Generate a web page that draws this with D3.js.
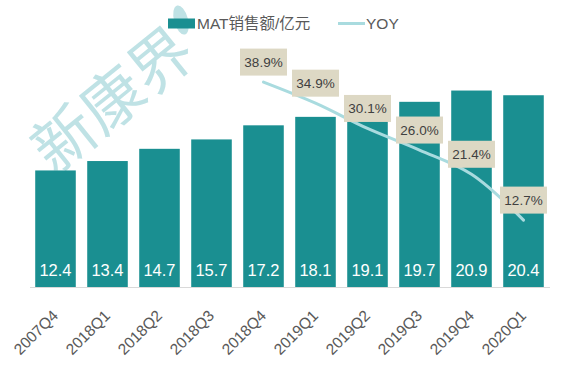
<!DOCTYPE html>
<html><head><meta charset="utf-8">
<script src="https://cdn.jsdelivr.net/npm/d3@7/dist/d3.min.js"></script>
<style>body{margin:0;background:#fff}svg{display:block}text{font-family:"Liberation Sans","Noto Sans CJK SC",sans-serif}</style>
</head><body><svg id="c" width="563" height="365"></svg>
<script>
const categories = ["2007Q4","2018Q1","2018Q2","2018Q3","2018Q4","2019Q1","2019Q2","2019Q3","2019Q4","2020Q1"];
const matValues = [12.4,13.4,14.7,15.7,17.2,18.1,19.1,19.7,20.9,20.4];
const yoyCategories = ["2018Q4","2019Q1","2019Q2","2019Q3","2019Q4","2020Q1"];
const yoyValues = [38.9,34.9,30.1,26.0,21.4,12.7];
const seriesNames = ["MAT销售额/亿元","YOY"];

const svg = d3.select("#c");
const teal = "#1A8F91", lineC = "#A9DBDF", beige = "#DDD8C4";

// watermark
const wm = svg.append("g").attr("transform","translate(113,100) rotate(-39)");
wm.append("text").attr("text-anchor","middle").attr("dy","0.35em")
  .attr("font-size",62).attr("fill","#bfe2e5").attr("font-weight","normal").text("新康界");
svg.append("ellipse").attr("cx",181).attr("cy",20).attr("rx",7).attr("ry",15)
  .attr("transform","rotate(-15,181,20)").attr("fill","#bfe2e5");

const x = d3.scaleBand().domain(categories).range([29.5,549.5]).paddingInner(0.22).paddingOuter(0.11);
const y = d3.scaleLinear().domain([0,22]).range([287,80.2]);
const y2 = d3.scaleLinear().domain([0,40]).range([287,76.3]);

// axis
const xAxis = d3.axisBottom(x).tickSize(0).tickPadding(0);
const ax = svg.append("g").attr("transform","translate(0,287)").call(xAxis);
ax.select(".domain").attr("stroke","#d9d9d9").attr("stroke-width",1);
ax.selectAll(".tick text").attr("font-size",15.5).attr("fill","#595959")
  .attr("text-anchor","end").attr("dy","0.7em")
  .attr("transform","translate(-4,22) rotate(-45)");

// bars
svg.append("g").selectAll("rect").data(categories).join("rect")
  .attr("x",d=>x(d)).attr("width",x.bandwidth())
  .attr("y",(d,i)=>y(matValues[i])).attr("height",(d,i)=>y(0)-y(matValues[i]))
  .attr("fill",teal);
svg.append("g").selectAll("text").data(categories).join("text")
  .attr("x",d=>x(d)+x.bandwidth()/2).attr("y",276).attr("text-anchor","middle")
  .attr("font-size",16.5).attr("fill","#fff").text((d,i)=>matValues[i].toFixed(1));

// line
const pts = yoyCategories.map((c,i)=>[x(c)+x.bandwidth()/2, y2(yoyValues[i])]);
svg.append("path").attr("d",d3.line().curve(d3.curveCatmullRom.alpha(0.5))(pts))
  .attr("fill","none").attr("stroke",lineC).attr("stroke-width",3).attr("stroke-linecap","round");

// labels
const lg = svg.append("g").selectAll("g").data(yoyCategories).join("g")
  .attr("transform",(c,i)=>`translate(${x(c)+x.bandwidth()/2},${y2(yoyValues[i])-20})`);
lg.append("rect").attr("x",-23.5).attr("y",-13.5).attr("width",47).attr("height",27).attr("fill",beige);
lg.append("text").attr("text-anchor","middle").attr("dy","0.36em").attr("font-size",13.5)
  .attr("fill","#404040").text((c,i)=>yoyValues[i].toFixed(1)+"%");

// legend
svg.append("rect").attr("x",168).attr("y",18.5).attr("width",27).attr("height",10).attr("fill",teal);
svg.append("text").attr("x",197).attr("y",29).attr("font-size",15.5).attr("fill","#595959").text(seriesNames[0]);
svg.append("line").attr("x1",338).attr("x2",365).attr("y1",23.5).attr("y2",23.5).attr("stroke",lineC).attr("stroke-width",3);
svg.append("text").attr("x",366).attr("y",29).attr("font-size",15.5).attr("fill","#595959").text(seriesNames[1]);
</script></body></html>
